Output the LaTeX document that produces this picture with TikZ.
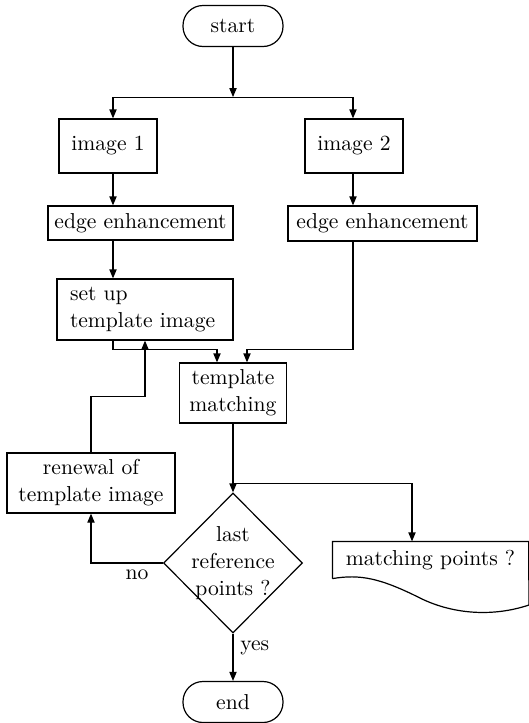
\documentclass[tikz,border=0pt]{standalone}
\usetikzlibrary{shapes.geometric,arrows.meta}
\begin{document}
\begin{tikzpicture}[x=0.5pt,y=-0.5pt,line width=0.6pt,
    >={Triangle[length=4.5pt,width=3.6pt]},
    every node/.style={font=\fontsize{10.8}{13.5}\selectfont},
    box/.style={draw,rectangle,inner sep=2pt,align=center},
    term/.style={draw,rectangle,rounded corners=10pt,minimum width=50pt,minimum height=20.5pt}]
  \useasboundingbox (0,0) rectangle (529,723);
  \coordinate (colL) at (113,0);
  \coordinate (colR) at (353,0);
  \coordinate (colD) at (412,0);
  \draw (233,26) node[term](start){start};
  \draw (108,146) node[box,minimum width=49pt,minimum height=27pt](img1){image 1};
  \draw (354,146) node[box,minimum width=49pt,minimum height=27pt](img2){image 2};
  \draw (140.5,223) node[box,minimum width=92.5pt,minimum height=17pt](edge1){edge enhancement};
  \draw (382.5,223.5) node[box,minimum width=94.5pt,minimum height=17.5pt](edge2){edge enhancement};
  \draw (145,309.5) node[box,align=left,text width=75pt,inner xsep=6.5pt,minimum height=30.5pt](setup)
    {set up\\template image};
  \draw (233,393) node[box,minimum width=53.5pt,minimum height=30pt](match){template\\matching};
  \draw (91,483) node[box,minimum width=84pt,minimum height=30pt](renew){renewal of\\template image};
  \draw (233,563) node[diamond,draw,minimum width=69.5pt,minimum height=70pt,inner sep=0pt,
    label={[align=center]center:last\\reference\\points ?}](dec){};
  \draw (233,702) node[term](end){end};
  % salida
  \node[minimum width=97.5pt,minimum height=18pt,inner sep=0pt] (outp) at (430.5,560) {matching points ?};
  \draw (outp.south west) -- (outp.north west) -- (outp.north east) -- (529,605)
    .. controls (490,618) and (450,613) .. (420,598)
    .. controls (380,578) and (360,574) .. (outp.south west);
  % flechas
  \draw[->] (start.south) -- ++(0,50) coordinate (split);
  \draw[->] (split) -| (img1.north -| colL);
  \draw[->] (split) -| (img2.north -| colR);
  \draw[->] (img1.south -| colL) -- (edge1.north -| colL);
  \draw[->] (img2.south -| colR) -- (edge2.north -| colR);
  \draw[->] (edge1.south -| colL) -- (setup.north -| colL);
  \draw[->] (setup.south -| colL) -- ++(0,9) -| ([xshift=-8pt]match.north);
  \draw[->] (edge2.south -| colR) -- ++(0,108) -| ([xshift=7pt]match.north);
  \draw[->] (renew.north) -- ++(0,-56) -| (setup.south);
  \draw[->] (match.south) -- ++(0,60) coordinate (jct) -- (dec.north);
  \draw[->] (jct) -| (outp.north -| colD);
  \draw[->] (dec.west) -| node[pos=0.18,below]{no} (renew.south);
  \draw[->] (dec.south) -- node[pos=0.3,right]{yes} (end.north);
\end{tikzpicture}
\end{document}
